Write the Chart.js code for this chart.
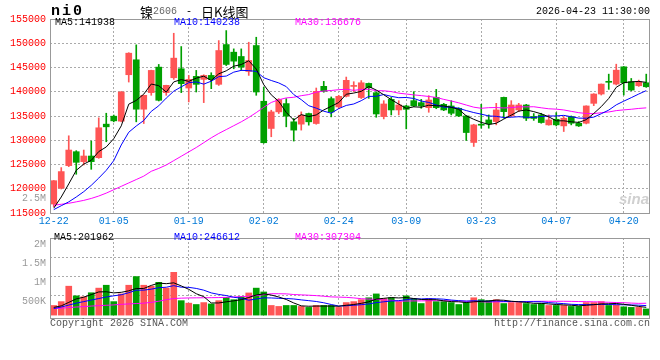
<!DOCTYPE html>
<html>
<head>
<meta charset="utf-8">
<script src="https://cdn.jsdelivr.net/npm/chart.js@4.4.1/dist/chart.umd.min.js"></script>
<style>
  body { margin: 0; background: #fff; width: 660px; height: 360px; position: relative; overflow: hidden; }
  canvas { position: absolute; left: 0; }
  .t { position: absolute; white-space: pre; font-family: "Liberation Mono", monospace; font-size: 10px; line-height: 10px; z-index: 2; }
  .cjk { font-family: "Noto Sans CJK SC", sans-serif; font-size: 13px; line-height: 13px; }
</style>
</head>
<body>
<canvas id="kline" width="660" height="228" style="top:0"></canvas>
<canvas id="vol" width="660" height="132" style="top:228px"></canvas>

<div class="t" style="left:51px;top:4px;font-size:15px;line-height:15px;font-weight:bold;letter-spacing:2px">ni0</div>
<div class="t cjk" style="left:140px;top:5px">镍</div>
<div class="t" style="left:153px;top:7px;color:#666">2606</div>
<div class="t" style="left:186px;top:7px">-</div>
<div class="t cjk" style="left:201px;top:5px">日K线图</div>
<div class="t" style="left:536px;top:7px">2026-04-23 11:30:00</div>

<div class="t" id="lgMa5" style="left:55px;top:18px;color:#000"></div>
<div class="t" id="lgMa10" style="left:174px;top:18px;color:#0000ff"></div>
<div class="t" id="lgMa30" style="left:295px;top:18px;color:#ff00ff"></div>
<div class="t" style="left:22px;top:194px;color:#999">2.5M</div>

<div class="t" id="lgVma5" style="left:54px;top:233px;color:#000"></div>
<div class="t" id="lgVma10" style="left:174px;top:233px;color:#0000ff"></div>
<div class="t" id="lgVma30" style="left:295px;top:233px;color:#ff00ff"></div>

<div class="t" style="left:50px;top:319px;color:#555">Copyright 2026 SINA.COM</div>
<div class="t" style="left:494px;top:319px;color:#555">http://finance.sina.com.cn</div>
<div class="t" style="left:619px;top:191px;font-family:'Liberation Sans',sans-serif;font-size:15px;line-height:15px;font-style:italic;font-weight:bold;color:#d0d0d0">sina</div>

<script>
// trading days shown on the chart
const dates = [
  '12-22','12-23','12-24','12-25','12-26','12-29','12-30','12-31',
  '01-05','01-06','01-07','01-08','01-09','01-12','01-13','01-14','01-15','01-16',
  '01-19','01-20','01-21','01-22','01-23','01-26','01-27','01-28','01-29','01-30',
  '02-02','02-03','02-04','02-05','02-06','02-09','02-10','02-11','02-12','02-13',
  '02-24','02-25','02-26','02-27',
  '03-02','03-03','03-04','03-05','03-06','03-09','03-10','03-11','03-12','03-13',
  '03-16','03-17','03-18','03-19','03-20','03-23','03-24','03-25','03-26','03-27',
  '03-30','03-31','04-01','04-02','04-03',
  '04-07','04-08','04-09','04-10','04-13','04-14','04-15','04-16','04-17',
  '04-20','04-21','04-22','04-23'
];
const dateTicks = ['12-22','01-05','01-19','02-02','02-24','03-09','03-23','04-07','04-20'];

const opens = [116850,120120,124770,127640,125590,126750,126410,133320,134960,133930,
  143510,146590,136400,139820,145080,139820,142890,144740,140770,143170,
  142550,143370,141530,149730,148160,147270,144190,149530,138040,132430,
  135850,137560,133800,133320,135510,133450,141120,138580,136870,139060,
  141100,138800,141720,139800,134880,138430,136250,137070,138160,137750,
  136720,138840,137410,137070,136590,135010,129540,133300,134190,133850,
  138840,135010,136250,137270,134900,135220,133170,134330,132960,134880,
  133510,133510,137610,139530,142100,141580,145140,142060,141240,141850];
const highs = [121700,124360,130920,127850,127980,129830,134620,135570,135200,140050,
  148050,149670,139300,144450,145630,141350,152060,149320,143370,144400,
  143500,143920,150550,152610,148840,148840,150210,151240,140980,136190,
  138580,138580,134480,135850,135600,140770,142140,138930,139270,143030,
  142070,142300,141800,140000,138160,138840,138160,137200,140010,138430,
  139190,140490,137600,138160,136700,135100,133300,137410,135220,137610,
  138900,138160,137610,137400,135500,135560,135220,135700,134880,135010,
  133850,137100,139600,141600,143630,145680,145200,142740,142400,143630];
const lows = [116300,119950,124560,122990,124900,124010,126270,129690,133800,133800,
  142000,133800,133450,139270,138100,139270,142550,139820,137900,139950,
  137760,140640,141300,145400,144740,144400,143370,139270,129400,130720,
  135510,132770,129830,132090,133110,133300,139900,134820,136530,138930,
  140010,138600,138640,134740,134400,135220,135220,132350,136930,136590,
  135770,136500,136100,135220,134880,129950,128720,132480,132480,133170,
  134540,134880,135900,134060,134100,133510,133100,132960,131800,133170,
  132830,133370,137130,139320,140490,141400,139320,140200,141100,140900];
const closes = [121660,123540,127980,125450,126750,125590,132570,132770,134000,139950,
  147950,136400,139270,144400,138240,141320,146930,141660,142550,141530,
  143370,142550,148500,145630,146310,145080,146450,139950,129490,135850,
  138380,134960,132090,135160,133800,140090,140090,135850,139060,142350,
  141300,141850,140830,135420,137480,136250,137270,136380,137070,137070,
  138300,136720,136250,135560,135010,131590,133170,133100,133370,136250,
  135900,137270,137270,134540,134500,133650,134190,133170,134540,133510,
  132960,137070,139530,141580,141950,144450,141850,140350,142060,141030];

const ma5 = [116000,118300,121000,123800,125080,125860,127670,128620,130330,132970,
  137440,138210,139510,141590,141250,139930,142030,142510,142140,142800,
  143210,142330,143700,144320,145270,145610,146390,144680,141460,139360,
  138020,135730,134150,135290,134880,135220,136250,137000,137780,139490,
  139730,140080,141080,140350,139380,138370,137450,136560,136890,136810,
  137220,137110,137080,136780,136370,135030,134320,133690,133250,133500,
  134360,135180,136010,136250,135900,135450,134830,134010,134010,133810,
  133670,134250,135520,136930,138620,140920,141870,142040,142130,141938];
const ma10 = [115700,116500,117300,118300,119400,120700,122200,123800,125800,129030,
  131650,132940,134070,135960,137110,138690,140120,141010,141870,142030,
  141570,142180,143110,143230,144040,144410,144360,144190,142890,142320,
  141820,141060,139420,138370,137120,136620,135990,135580,136530,137180,
  137480,138160,139040,139060,139430,139050,138770,138820,138620,138090,
  137790,137280,136820,136840,136590,136120,135710,135380,135010,134930,
  134690,134750,134850,134750,134700,134900,135000,135010,135130,134850,
  134560,134540,134770,135470,136220,137300,138060,138780,139530,140238];
const ma30 = [116600,116800,117000,117300,117600,118000,118500,119100,119800,120500,
  121200,121900,122600,123600,124200,124900,125800,126700,127600,128500,
  129500,130500,131400,132200,133000,133800,134700,135700,136800,137790,
  138350,138730,138860,139190,139420,139910,140160,140260,140430,140510,
  140290,140470,140520,140220,140200,140030,139710,139530,139350,139200,
  139030,138830,138430,138090,137710,137260,136820,136590,136720,136740,
  136650,136730,136900,136880,136910,136690,136490,136410,136250,135960,
  135680,135520,135480,135680,135830,136110,136260,136390,136560,136676];

const volumes = [250000,350000,750000,500000,475000,580000,700000,775000,350000,550000,
  775000,1000000,775000,750000,850000,700000,1110000,375000,310000,275000,
  325000,290000,375000,460000,400000,475000,575000,700000,600000,250000,
  225000,250000,250000,225000,200000,250000,250000,250000,200000,325000,
  350000,400000,450000,550000,425000,450000,350000,500000,425000,300000,
  425000,350000,350000,325000,275000,325000,450000,400000,375000,400000,
  300000,325000,325000,300000,275000,300000,250000,250000,250000,225000,
  225000,325000,325000,350000,250000,260000,215000,200000,200000,160000];
const vma5 = [200000,240000,330000,420000,465000,531000,601000,606000,576000,591000,
  630000,690000,690000,770000,830000,815000,837000,757000,669000,554000,
  479000,315000,315000,345000,370000,400000,457000,522000,550000,520000,
  470000,405000,315000,240000,230000,235000,235000,235000,230000,255000,
  275000,305000,345000,415000,435000,455000,445000,455000,430000,405000,
  400000,400000,370000,350000,345000,325000,345000,355000,365000,390000,
  385000,360000,345000,330000,305000,305000,290000,275000,265000,255000,
  240000,255000,270000,290000,295000,302000,280000,255000,225000,201962];
const vma10 = [170000,210000,260000,310000,350000,390000,430000,470000,500000,528000,
  581000,646000,648000,673000,711000,723000,764000,724000,720000,692000,
  647000,576000,536000,507000,462000,440000,386000,419000,448000,445000,
  435000,431000,419000,395000,375000,353000,320000,275000,235000,243000,
  255000,270000,290000,323000,345000,365000,375000,400000,423000,420000,
  428000,423000,413000,390000,375000,363000,373000,363000,358000,368000,
  355000,353000,350000,348000,348000,345000,325000,310000,298000,280000,
  273000,273000,273000,278000,275000,271000,268000,263000,258000,246612];
const vma30 = [170000,180000,195000,210000,220000,235000,245000,255000,265000,280000,
  290000,300000,310000,330000,360000,400000,430000,440000,445000,448000,
  450000,452000,455000,460000,470000,480000,490000,505000,530000,555000,
  554000,551000,534000,525000,516000,505000,490000,472000,467000,460000,
  446000,426000,415000,408000,394000,386000,360000,365000,368000,369000,
  373000,375000,374000,369000,365000,360000,356000,346000,338000,343000,
  346000,348000,351000,353000,356000,358000,358000,358000,359000,356000,
  352000,349000,345000,338000,333000,326000,322000,312000,304000,307304];

const volTickValues = [500000, 1000000, 1500000, 2000000];
const volTickLabels = ['500K', '1M', '1.5M', '2M'];

const UP = '#ff5555', DOWN = '#00a000';
const candleColors = closes.map((c, i) => c >= opens[i] ? UP : DOWN);
const last = a => a[a.length - 1];

document.getElementById('lgMa5').textContent = 'MA5:' + last(ma5);
document.getElementById('lgMa10').textContent = 'MA10:' + last(ma10);
document.getElementById('lgMa30').textContent = 'MA30:' + last(ma30);
document.getElementById('lgVma5').textContent = 'MA5:' + last(vma5);
document.getElementById('lgVma10').textContent = 'MA10:' + last(vma10);
document.getElementById('lgVma30').textContent = 'MA30:' + last(vma30);

const monoFont = { family: 'Liberation Mono', size: 10 };
const gridColor = c => (c.tick && c.tick.value === 0 && c.scale.axis === 'x') ? 'rgba(0,0,0,0)' : '#aaaaaa';

// solid frame round the plot area
const frame = {
  id: 'frame',
  afterDraw(chart) {
    const { ctx, chartArea: a } = chart;
    ctx.save();
    ctx.strokeStyle = '#999';
    ctx.lineWidth = 1;
    ctx.strokeRect(Math.round(a.left) + 0.5, Math.round(a.top) + 0.5, Math.round(a.width) - 1, Math.round(a.height));
    ctx.restore();
  }
};

const maLine = (data, color) => ({
  type: 'line', data, borderColor: color, borderWidth: 1,
  pointRadius: 0, tension: 0, fill: false, order: 0
});

const xAxis = (showLabels) => ({
  type: 'category',
  offset: true,
  grid: { offset: false, color: gridColor, drawTicks: false },
  border: { display: false, dash: [2, 2] },
  ticks: {
    display: showLabels, autoSkip: false, maxRotation: 0,
    color: '#0078d7', font: monoFont, padding: 2
  },
  afterBuildTicks: s => { s.ticks = s.ticks.filter(t => dateTicks.includes(dates[t.value])); },
  afterFit: s => { s.height = showLabels ? 15 : 0; }
});

new Chart(document.getElementById('kline'), {
  type: 'bar',
  data: {
    labels: dates,
    datasets: [
      maLine(ma5, '#000000'),
      maLine(ma10, '#0000ff'),
      maLine(ma30, '#ff00ff'),
      {
        data: opens.map((o, i) => [o, closes[i]]),
        backgroundColor: candleColors, borderWidth: 0,
        barThickness: 6, minBarLength: 1, grouped: false, order: 1
      },
      {
        data: lows.map((l, i) => [l, highs[i]]),
        backgroundColor: candleColors, borderWidth: 0,
        barThickness: 1, grouped: false, order: 2
      }
    ]
  },
  options: {
    responsive: false,
    animation: false,
    events: [],
    layout: { padding: { left: 0, right: 10, top: 19, bottom: 0 } },
    plugins: { legend: { display: false }, tooltip: { enabled: false } },
    scales: {
      x: xAxis(true),
      y: {
        min: 115000, max: 155000,
        grid: { color: '#aaaaaa', drawTicks: false },
        border: { display: false, dash: [2, 2] },
        ticks: { stepSize: 5000, color: '#ff0000', font: monoFont, padding: 4, callback: v => String(v) },
        afterFit: s => { s.width = 50; }
      }
    }
  },
  plugins: [frame]
});

new Chart(document.getElementById('vol'), {
  type: 'bar',
  data: {
    labels: dates,
    datasets: [
      maLine(vma5, '#000000'),
      maLine(vma10, '#0000ff'),
      maLine(vma30, '#ff00ff'),
      {
        data: volumes, backgroundColor: candleColors, borderWidth: 0,
        barThickness: 6, order: 1
      }
    ]
  },
  options: {
    responsive: false,
    animation: false,
    events: [],
    layout: { padding: { left: 0, right: 10, top: 7, bottom: 42 } },
    plugins: { legend: { display: false }, tooltip: { enabled: false } },
    scales: {
      x: xAxis(false),
      y: {
        min: -75000, max: 2000000,
        grid: { color: '#aaaaaa', drawTicks: false },
        border: { display: false, dash: [2, 2] },
        afterBuildTicks: s => { s.ticks = volTickValues.map(v => ({ value: v })); },
        ticks: { color: '#999999', font: monoFont, padding: 4, labelOffset: 6, callback: (v, i) => volTickLabels[i] },
        afterFit: s => { s.width = 50; }
      }
    }
  },
  plugins: [frame]
});
</script>
</body>
</html>
